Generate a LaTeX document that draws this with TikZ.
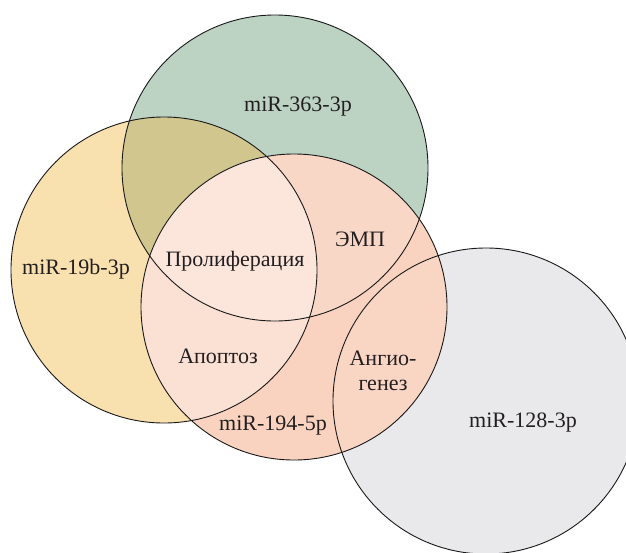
\documentclass[tikz,border=0pt]{standalone}
\usepackage{fontspec}
\setmainfont{Liberation Serif}
\definecolor{cyel}{HTML}{F9E0AF}
\definecolor{cgrn}{HTML}{BCD3C3}
\definecolor{cgry}{HTML}{E9E9EC}
\definecolor{cpnk}{HTML}{FAD3C0}
\definecolor{colive}{HTML}{D0C68E}
\definecolor{cpy}{HTML}{FBE0D4}
\definecolor{cpg}{HTML}{F9D7C7}
\definecolor{cpyg}{HTML}{FCE6DC}
\definecolor{cpgr}{HTML}{F9D5C4}
\definecolor{ctxt}{HTML}{231F20}
\begin{document}
\begin{tikzpicture}[x=1pt,y=-1pt,
  lbl/.style={font=\fontsize{22}{25}\selectfont, text=ctxt, inner sep=0pt, align=center},
  ring/.style={draw=black!90, line width=0.9pt}]
\useasboundingbox (0,0) rectangle (626,552);
\clip (0,0) rectangle (626,552);
\coordinate (G) at (275,168);
\coordinate (Y) at (164,270);
\coordinate (P) at (294,307);
\coordinate (R) at (486,401);
\def\rad{153pt}
% base fills
\fill[cyel] (Y) circle[radius=\rad];
\fill[cgrn] (G) circle[radius=\rad];
\fill[cgry] (R) circle[radius=\rad];
\begin{scope}
  \clip (G) circle[radius=\rad];
  \fill[colive] (Y) circle[radius=\rad];
\end{scope}
\fill[cpnk] (P) circle[radius=\rad];
\begin{scope}
  \clip (P) circle[radius=\rad];
  \fill[cpy] (Y) circle[radius=\rad];
  \fill[cpg] (G) circle[radius=\rad];
  \fill[cpgr] (R) circle[radius=\rad];
  \begin{scope}
    \clip (Y) circle[radius=\rad];
    \fill[cpyg] (G) circle[radius=\rad];
  \end{scope}
\end{scope}
% outlines
\draw[ring] (Y) circle[radius=\rad];
\draw[ring] (G) circle[radius=\rad];
\draw[ring] (P) circle[radius=\rad];
\draw[ring] (R) circle[radius=\rad];
% labels
\node[lbl] (tG) at (298,107) {miR-363-3p};
\node[lbl] (tY) at (76,269) {miR-19b-3p};
\node[lbl] (tProl) at (235,261) {Пролиферация};
\node[lbl] (tEMP) at (360,239) {ЭМП};
\node[lbl] (tApo) at (218,356) {Апоптоз};
\node[lbl] (tAng) at (383,371) {Ангио-\\генез};
\node[lbl] (tP) at (273,426) {miR-194-5p};
\node[lbl] (tR) at (523,423) {miR-128-3p};
\end{tikzpicture}
\end{document}
